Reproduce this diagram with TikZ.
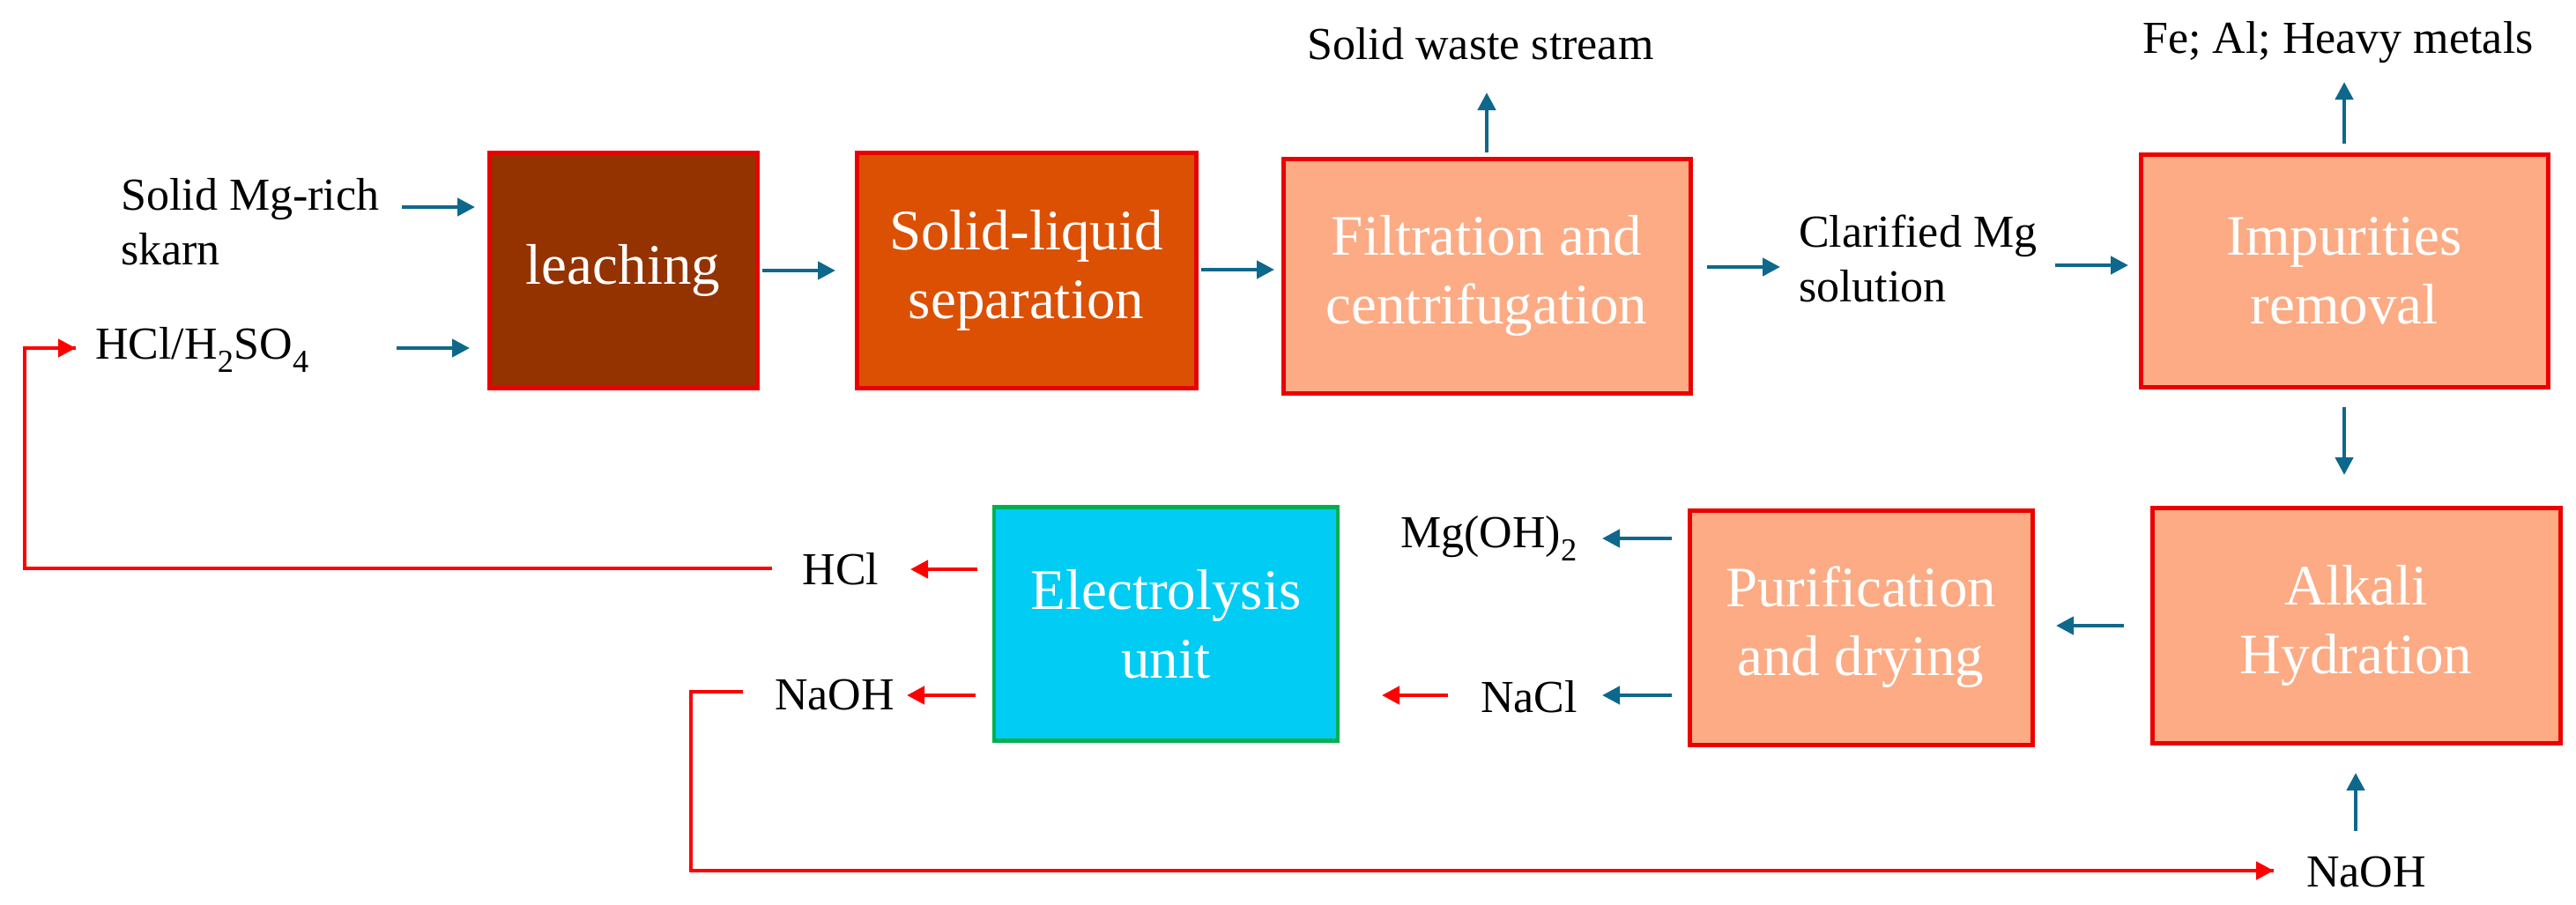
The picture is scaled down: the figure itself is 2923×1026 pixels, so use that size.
\documentclass[tikz,border=0pt]{standalone}
\usepackage{fontspec}
\setmainfont{Liberation Serif}
\usetikzlibrary{arrows.meta}
\definecolor{brownbox}{RGB}{148,51,0}
\definecolor{orangebox}{RGB}{220,80,4}
\definecolor{salmonbox}{RGB}{252,171,132}
\definecolor{cyanbox}{RGB}{0,204,244}
\definecolor{greenedge}{RGB}{0,176,80}
\definecolor{rededge}{RGB}{235,0,0}
\definecolor{bluearrow}{RGB}{14,104,140}
\begin{document}
\begin{tikzpicture}[x=1pt,y=-1pt,
 procbox/.style={draw=rededge, line width=5pt, text=white, align=center, inner sep=0pt, font=\fontsize{65}{78}\selectfont},
 lbl/.style={inner sep=0pt, font=\fontsize{52}{62}\selectfont, align=left},
 barrow/.style={draw=bluearrow, line width=4.5pt, -{Triangle[length=20pt,width=20pt]}},
 rarrow/.style={draw=red, line width=4.5pt, -{Triangle[length=20pt,width=20pt]}},
 rline/.style={draw=red, line width=4pt},
]
\useasboundingbox (0,0) rectangle (2923,1026);

% process boxes
\node[procbox, fill=brownbox, minimum width=304pt, minimum height=267pt] (leach) at (707,306.5) {leaching};
\node[procbox, fill=orangebox, minimum width=385pt, minimum height=267pt] (sl) at (1164.5,306.5) {Solid-liquid\\separation};
\node[procbox, fill=salmonbox, minimum width=462pt, minimum height=266pt] (filt) at (1687,313) {Filtration and\\centrifugation};
\node[procbox, fill=salmonbox, minimum width=462pt, minimum height=264pt] (imp) at (2660,307) {Impurities\\removal};
\node[procbox, fill=salmonbox, minimum width=463pt, minimum height=267pt] (alk) at (2673.5,709.5) {Alkali\\Hydration};
\node[procbox, fill=salmonbox, minimum width=389pt, minimum height=266pt] (pur) at (2111.5,712) {Purification\\and drying};
\node[procbox, draw=greenedge, line width=4.5pt, fill=cyanbox, minimum width=390pt, minimum height=265pt] (ele) at (1323,708) {Electrolysis\\unit};

% labels
\node[lbl, anchor=west] (skarn) at (137,252) {Solid Mg-rich\\skarn};
\node[lbl, anchor=west] (acid) at (108,397) {HCl/H\textsubscript{2}SO\textsubscript{4}};
\node[lbl] (waste) at (1680,50) {Solid waste stream};
\node[lbl, anchor=west] (clar) at (2041,293) {Clarified Mg\\solution};
\node[lbl] (metals) at (2653,48) {Fe; Al; Heavy metals};
\node[lbl, anchor=east] (mgoh) at (1790,611) {Mg(OH)\textsubscript{2}};
\node[lbl, anchor=east] (nacl) at (1790,791) {NaCl};
\node[lbl] (hcl) at (954,646) {HCl};
\node[lbl] (naoha) at (947,789) {NaOH};
\node[lbl] (naohb) at (2685,990) {NaOH};

% arrow end points
\coordinate (a1s) at (456,235);  \coordinate (a1e) at (539,235);
\coordinate (a2s) at (450,395);  \coordinate (a2e) at (533,395);
\coordinate (a3s) at (865,307);  \coordinate (a3e) at (948,307);
\coordinate (a4s) at (1363,306); \coordinate (a4e) at (1446,306);
\coordinate (a5s) at (1937,303); \coordinate (a5e) at (2020,303);
\coordinate (a6s) at (2332,301); \coordinate (a6e) at (2415,301);
\coordinate (a7s) at (1687,173); \coordinate (a7e) at (1687,105);
\coordinate (a8s) at (2660,163); \coordinate (a8e) at (2660,93);
\coordinate (a9s) at (2660,462); \coordinate (a9e) at (2660,539);
\coordinate (a10s) at (2410,710); \coordinate (a10e) at (2333,710);
\coordinate (a11s) at (1897,611); \coordinate (a11e) at (1818,611);
\coordinate (a12s) at (1897,789); \coordinate (a12e) at (1818,789);
\coordinate (a13s) at (2673,943); \coordinate (a13e) at (2673,877);
\coordinate (r1s) at (1643,789); \coordinate (r1e) at (1568,789);
\coordinate (r2s) at (1109,646); \coordinate (r2e) at (1033,646);
\coordinate (r3s) at (1107,789); \coordinate (r3e) at (1029,789);
\coordinate (h1) at (876,645); \coordinate (h2) at (28,645); \coordinate (h3) at (28,395); \coordinate (h4) at (86,395);
\coordinate (n1) at (843,785); \coordinate (n2) at (784,785); \coordinate (n3) at (784,988); \coordinate (n4) at (2580,988);

% blue arrows
\foreach \i in {1,...,13} {\draw[barrow] (a\i s) -- (a\i e);}
% red arrows
\foreach \i in {1,2,3} {\draw[rarrow] (r\i s) -- (r\i e);}
\draw[rline, line join=miter] (h1) -- (h2) -- (h3) -- (h4);
\draw[rarrow] ([xshift=-2pt]h4) -- (h4);
\draw[rline, line join=miter] (n1) -- (n2) -- (n3) -- (n4);
\draw[rarrow] ([xshift=-2pt]n4) -- (n4);
\end{tikzpicture}
\end{document}
